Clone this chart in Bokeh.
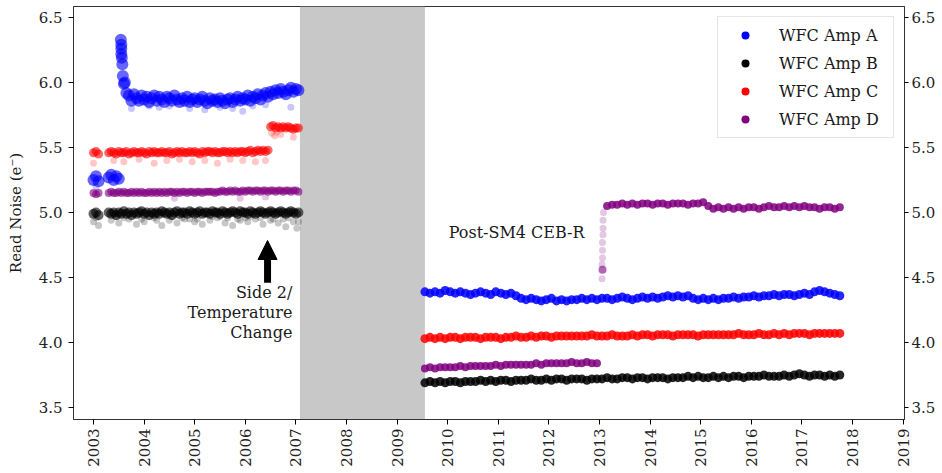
import math
import numpy as np
from bokeh.plotting import figure
from bokeh.models import (ColumnDataSource, LinearAxis, Range1d, FixedTicker,
                          NumeralTickFormatter, BoxAnnotation, Arrow, NormalHead,
                          Legend, LegendItem)
from bokeh.core.properties import value
from bokeh.embed import file_html
from bokeh.resources import INLINE

nan = float("nan")

# ---------------- data ----------------
series_names = ["WFC Amp A", "WFC Amp B", "WFC Amp C", "WFC Amp D"]
series_colors = ["#0000ff", "#000000", "#ff0000", "#800080"]

# sampling of the two observing periods (decimal year)
pre_start, pre_step, pre_n = 2003.00, 0.05, 82      # 2003.00 .. 2007.05
post_start, post_step, post_n = 2009.55, 0.10, 83   # 2009.55 .. 2017.75

# ACS failure (no data)
gap_start, gap_end = 2007.08, 2009.55

amp_a_pre = [5.25, 5.28, 5.24, nan, nan, nan,
             5.27, 5.29, 5.25, 5.28, 5.26, 6.22, 5.99, 5.92,
             5.90, 5.86, 5.91, 5.88, 5.86, 5.90, 5.87, 5.89, 5.85, 5.88,
             5.90, 5.86, 5.89, 5.87, 5.85, 5.89, 5.88, 5.86, 5.90, 5.87,
             5.85, 5.88, 5.86, 5.89, 5.85, 5.87, 5.88, 5.85, 5.87, 5.89,
             5.86, 5.84, 5.88, 5.86, 5.87, 5.85, 5.88, 5.86, 5.84, 5.87,
             5.88, 5.85, 5.87, 5.89, 5.86, 5.88, 5.87, 5.90, 5.86, 5.89,
             5.88, 5.91, 5.87, 5.90, 5.92, 5.89, 5.93, 5.91, 5.94, 5.92,
             5.95, 5.93, 5.91, 5.94, 5.96, 5.93, 5.95, 5.94]
amp_a_spike_dates = [2003.54, 2003.55, 2003.55, 2003.56, 2003.57, 2003.58, 2003.62]
amp_a_spike = [6.33, 6.29, 6.26, 6.19, 6.14, 6.05, 6.00]
amp_a_post = [4.39, 4.38, 4.39, 4.38, 4.40, 4.39, 4.38, 4.39, 4.38, 4.37,
              4.38, 4.39, 4.38, 4.37, 4.39, 4.38, 4.37, 4.38, 4.36, 4.34,
              4.33, 4.34, 4.33, 4.32, 4.33, 4.34, 4.32, 4.33, 4.32, 4.33,
              4.33, 4.34, 4.33, 4.34, 4.33, 4.34, 4.34, 4.33, 4.34, 4.35,
              4.34, 4.33, 4.34, 4.35, 4.34, 4.35, 4.34, 4.35, 4.36, 4.35,
              4.36, 4.35, 4.36, 4.34, 4.33, 4.34, 4.33, 4.34, 4.33, 4.34,
              4.34, 4.35, 4.34, 4.35, 4.35, 4.36, 4.35, 4.36, 4.36, 4.37,
              4.36, 4.37, 4.37, 4.36, 4.37, 4.38, 4.37, 4.39, 4.40, 4.39,
              4.38, 4.37, 4.36]
amp_a_faint_dates = [2003.75, 2004.1, 2004.5, 2004.9, 2005.2, 2005.5, 2005.95, 2006.4,
                     2006.9, 2003.05, 2004.3, 2005.75, 2006.15]
amp_a_faint = [5.80, 5.82, 5.82, 5.80, 5.79, 5.81, 5.78, 5.83, 5.81, 5.20, 5.81, 5.80, 5.82]

amp_b_pre = [4.99, 5.00, 4.98, nan, nan, nan,
             5.00, 4.99, 5.00, 4.98, 5.00, 4.99, 5.01, 4.99, 5.00, 4.98,
             5.00, 4.99, 5.00, 5.01, 4.99, 5.00, 4.98, 5.00, 4.99, 5.00,
             4.99, 5.01, 5.00, 4.99, 5.00, 4.98, 5.00, 5.01, 4.99, 5.00,
             5.00, 4.99, 5.01, 5.00, 4.99, 5.00, 5.01, 4.99, 5.00, 5.00,
             4.99, 5.01, 5.00, 5.00, 4.99, 5.01, 5.00, 4.99, 5.00, 5.01,
             5.00, 4.99, 5.01, 5.00, 5.00, 4.99, 5.01, 5.00, 4.99, 5.00,
             5.01, 5.00, 4.99, 5.00, 5.01, 5.00, 4.99, 5.00, 5.01, 5.00,
             4.99, 5.00, 5.01, 5.00, 4.99, 5.00]
amp_b_post = [3.69, 3.70, 3.69, 3.70, 3.69, 3.70, 3.70, 3.69, 3.70, 3.70,
              3.70, 3.71, 3.70, 3.71, 3.70, 3.71, 3.71, 3.70, 3.71, 3.71,
              3.71, 3.72, 3.71, 3.71, 3.72, 3.71, 3.72, 3.72, 3.71, 3.72,
              3.72, 3.72, 3.71, 3.72, 3.72, 3.72, 3.73, 3.72, 3.72, 3.73,
              3.73, 3.72, 3.73, 3.73, 3.72, 3.73, 3.73, 3.73, 3.72, 3.73,
              3.73, 3.73, 3.74, 3.73, 3.74, 3.73, 3.73, 3.74, 3.73, 3.74,
              3.73, 3.74, 3.74, 3.73, 3.74, 3.74, 3.74, 3.75, 3.74, 3.74,
              3.74, 3.75, 3.74, 3.75, 3.76, 3.75, 3.74, 3.75, 3.75, 3.74,
              3.75, 3.74, 3.75]
amp_b_faint_dates = [2003.0, 2003.1, 2003.35, 2003.5, 2003.7, 2003.85, 2004.0, 2004.2,
                     2004.35, 2004.5, 2004.65, 2004.8, 2005.0, 2005.15, 2005.3, 2005.45,
                     2005.6, 2005.75, 2005.9, 2006.05, 2006.2, 2006.35, 2006.5, 2006.65,
                     2006.8, 2006.95, 2007.02, 2003.6, 2004.9, 2005.5, 2006.0, 2006.75,
                     2003.05, 2003.45, 2003.95, 2004.25, 2004.55, 2004.75, 2005.05, 2005.35,
                     2005.65, 2005.85, 2006.1, 2006.3, 2006.55, 2006.85, 2007.05]
amp_b_faint = [4.93, 4.90, 4.94, 4.92, 4.95, 4.91, 4.93, 4.96, 4.90, 4.94, 4.92, 4.95,
               4.93, 4.91, 4.94, 4.96, 4.92, 4.90, 4.94, 4.93, 4.95, 4.91, 4.94, 4.92,
               4.89, 4.93, 4.88, 4.96, 4.95, 4.97, 4.96, 4.95,
               4.96, 4.97, 4.95, 4.94, 4.97, 4.96, 4.95, 4.97, 4.96, 4.95, 4.97, 4.96,
               4.95, 4.96, 4.93]

amp_c_pre = [5.46, 5.47, 5.45, nan, nan, nan,
             5.46, 5.47, 5.46, 5.45, 5.47, 5.46, 5.46, 5.47, 5.45, 5.46,
             5.47, 5.46, 5.46, 5.47, 5.46, 5.45, 5.47, 5.46, 5.47, 5.46,
             5.46, 5.47, 5.46, 5.46, 5.47, 5.45, 5.46, 5.47, 5.46, 5.47,
             5.46, 5.46, 5.47, 5.46, 5.47, 5.46, 5.45, 5.47, 5.46, 5.47,
             5.47, 5.46, 5.47, 5.46, 5.46, 5.47, 5.47, 5.46, 5.47, 5.46,
             5.47, 5.46, 5.47, 5.47, 5.46, 5.47, 5.48, 5.46, 5.47, 5.48,
             5.47, 5.48, 5.47, 5.48,
             5.66, 5.67, 5.65, 5.66, 5.65, 5.66, 5.65, 5.66, 5.65, 5.64, 5.65, 5.65]
amp_c_post = [4.03, 4.04, 4.03, 4.04, 4.03, 4.04, 4.04, 4.03, 4.04, 4.04,
              4.04, 4.03, 4.04, 4.04, 4.04, 4.03, 4.04, 4.04, 4.05, 4.04,
              4.04, 4.05, 4.04, 4.05, 4.05, 4.04, 4.05, 4.05, 4.05, 4.05,
              4.05, 4.05, 4.05, 4.06, 4.05, 4.05, 4.05, 4.06, 4.05, 4.05,
              4.05, 4.06, 4.05, 4.06, 4.06, 4.05, 4.06, 4.06, 4.06, 4.05,
              4.06, 4.06, 4.06, 4.06, 4.05, 4.06, 4.06, 4.06, 4.06, 4.06,
              4.06, 4.06, 4.07, 4.06, 4.06, 4.06, 4.07, 4.06, 4.06, 4.07,
              4.06, 4.07, 4.06, 4.07, 4.07, 4.07, 4.06, 4.07, 4.07, 4.07,
              4.07, 4.07, 4.07]
amp_c_faint_dates = [2003.0, 2003.4, 2003.6, 2003.9, 2004.2, 2004.45, 2004.7, 2004.95,
                     2005.2, 2005.45, 2005.7, 2005.95, 2006.2, 2006.4, 2006.52, 2006.58,
                     2006.62, 2006.7, 2006.95]
amp_c_faint = [5.38, 5.40, 5.39, 5.41, 5.38, 5.40, 5.41, 5.39, 5.40, 5.38, 5.41, 5.40,
               5.39, 5.40, 5.61, 5.59, 5.62, 5.60, 5.58]

amp_d_pre = [5.15, 5.14, 5.15, nan, nan, nan,
             5.15, 5.16, 5.15, 5.15, 5.16, 5.15, 5.16, 5.15, 5.15, 5.16,
             5.15, 5.16, 5.15, 5.16, 5.15, 5.15, 5.16, 5.15, 5.16, 5.15,
             5.16, 5.15, 5.16, 5.15, 5.16, 5.16, 5.15, 5.16, 5.15, 5.16,
             5.16, 5.15, 5.16, 5.16, 5.15, 5.16, 5.16, 5.15, 5.16, 5.16,
             5.16, 5.16, 5.15, 5.16, 5.16, 5.17, 5.16, 5.16, 5.17, 5.16,
             5.17, 5.16, 5.16, 5.17, 5.16, 5.17, 5.17, 5.16, 5.17, 5.17,
             5.16, 5.17, 5.17, 5.16, 5.17, 5.17, 5.16, 5.17, 5.17, 5.16,
             5.17, 5.17, 5.16, 5.17, 5.17, 5.16]
amp_d_post = [3.80, 3.81, 3.80, 3.81, 3.81, 3.81, 3.81, 3.82, 3.81, 3.82,
              3.82, 3.82, 3.82, 3.82, 3.83, 3.82, 3.83, 3.83, 3.83, 3.83,
              3.83, 3.83, 3.84, 3.83, 3.84, 3.84, 3.84, 3.84, 3.84, 3.85,
              3.84, 3.84, 3.85, 3.84, 3.84, nan,
              5.05, 5.06, 5.06, 5.07, 5.06, 5.07, 5.06, 5.07, 5.07, 5.06,
              5.07, 5.07, 5.06, 5.07, 5.07, 5.07, 5.06, 5.07, 5.07, 5.08,
              5.05, 5.03, 5.04, 5.03, 5.04, 5.03, 5.04, 5.03, 5.04, 5.04,
              5.03, 5.04, 5.05, 5.04, 5.04, 5.05, 5.04, 5.05, 5.04, 5.05,
              5.04, 5.04, 5.03, 5.04, 5.04, 5.03, 5.04]
amp_d_jump_dates = [2013.06]
amp_d_jump = [4.56]
amp_d_faint_dates = [2013.05, 2013.05, 2013.06, 2013.06, 2013.06, 2013.07, 2013.07,
                     2013.07, 2013.08, 2004.6, 2005.9, 2006.4]
amp_d_faint = [4.49, 4.60, 4.65, 4.71, 4.77, 4.83, 4.88, 4.94, 5.00, 5.11, 5.11, 5.12]

x_tick_years = list(range(2003, 2020))
y_ticks = [3.5, 4.0, 4.5, 5.0, 5.5, 6.0, 6.5]

annot_side_lines = ["Side 2/", "Temperature", "Change"]
annot_side_x = [2006.93, 2006.93, 2006.93]
annot_side_y = [4.385, 4.231, 4.077]
arrow_x, arrow_y0, arrow_y1 = 2006.44, 4.46, 4.785
annot_post_text = ["Post-SM4 CEB-R"]
annot_post_x = [2010.02]
annot_post_y = [4.846]

# ---------------- figure ----------------
FONT = "DejaVu Serif"
pre_dates = np.round(pre_start + pre_step * np.arange(pre_n), 3)
post_dates = np.round(post_start + post_step * np.arange(post_n), 3)

p = figure(width=940, height=472, output_backend="svg", toolbar_location=None,
           x_range=Range1d(2002.605, 2019.028), y_range=Range1d(3.408, 6.585),
           min_border_left=73, min_border_right=36, min_border_top=6,
           min_border_bottom=53, background_fill_color="white",
           border_fill_color="white")
p.xgrid.visible = False
p.ygrid.visible = False
p.outline_line_color = "#333333"
p.outline_line_width = 1

p.add_layout(BoxAnnotation(left=gap_start, right=gap_end, fill_color="#c8c8c8",
                           fill_alpha=1.0, line_color=None, level="underlay"))

main = [
    (amp_a_pre, amp_a_post, amp_a_spike_dates, amp_a_spike, amp_a_faint_dates, amp_a_faint, 12, 9),
    (amp_b_pre, amp_b_post, [], [], amp_b_faint_dates, amp_b_faint, 10, 9),
    (amp_c_pre, amp_c_post, [], [], amp_c_faint_dates, amp_c_faint, 9, 9),
    (amp_d_pre, amp_d_post, amp_d_jump_dates, amp_d_jump, amp_d_faint_dates, amp_d_faint, 8, 8),
]
legend_items = []
for (pre, post, ex_d, ex_v, f_d, f_v, sz, sz2), name, col in zip(main, series_names, series_colors):
    fsrc = ColumnDataSource(dict(x=list(f_d), y=list(f_v)))
    p.scatter("x", "y", source=fsrc, size=7, fill_color=col, fill_alpha=0.22,
              line_color=None)
    src_pre = ColumnDataSource(dict(x=list(pre_dates) + list(ex_d),
                                    y=list(pre) + list(ex_v)))
    p.scatter("x", "y", source=src_pre, size=sz, fill_color=col, fill_alpha=0.6,
              line_color=None)
    src_post = ColumnDataSource(dict(x=list(post_dates), y=list(post)))
    p.scatter("x", "y", source=src_post, size=sz2, fill_color=col, fill_alpha=0.85,
              line_color=None)
    dummy = p.scatter(x=[nan], y=[nan], size=8, fill_color=col, line_color=None)
    legend_items.append(LegendItem(label=name, renderers=[dummy]))

# annotations
p.add_layout(Arrow(end=NormalHead(size=19, fill_color="black", line_color="black"),
                   x_start=arrow_x, y_start=arrow_y0, x_end=arrow_x, y_end=arrow_y1,
                   line_width=7, line_color="black"))
side_src = ColumnDataSource(dict(x=annot_side_x, y=annot_side_y, t=annot_side_lines))
p.text("x", "y", text="t", source=side_src, text_align="right", text_baseline="middle",
       text_font=value(FONT), text_font_size="16px", text_color="#1a1a1a")
post_src = ColumnDataSource(dict(x=annot_post_x, y=annot_post_y, t=annot_post_text))
p.text("x", "y", text="t", source=post_src, text_align="left", text_baseline="middle",
       text_font=value(FONT), text_font_size="16px", text_color="#1a1a1a")

# axes
xa = p.xaxis[0]
xa.ticker = FixedTicker(ticks=x_tick_years)
xa.major_label_orientation = math.pi / 2
xa.major_label_text_font = FONT
xa.major_label_text_font_size = "15px"
xa.major_label_text_color = "#222222"
xa.major_label_standoff = 4
xa.major_tick_out = 5
xa.major_tick_in = 0
xa.minor_tick_line_color = None
xa.axis_line_color = "#333333"

ya = p.yaxis[0]
ya.ticker = FixedTicker(ticks=y_ticks)
ya.formatter = NumeralTickFormatter(format="0.0")
ya.axis_label = "Read Noise (e\u207b)"
ya.axis_label_text_font = FONT
ya.axis_label_text_font_style = "normal"
ya.axis_label_text_font_size = "15px"
ya.axis_label_text_color = "#1a1a1a"
ya.axis_label_standoff = 11
ya.major_label_text_font = FONT
ya.major_label_text_font_size = "15px"
ya.major_label_text_color = "#222222"
ya.major_label_standoff = 6
ya.major_tick_out = 5
ya.major_tick_in = 0
ya.minor_tick_line_color = None
ya.axis_line_color = "#333333"

ra = LinearAxis(ticker=FixedTicker(ticks=y_ticks),
                formatter=NumeralTickFormatter(format="0.0"),
                major_label_text_font=FONT, major_label_text_font_size="15px",
                major_label_text_color="#222222", major_label_standoff=3,
                major_tick_out=4, major_tick_in=0, minor_tick_line_color=None,
                axis_line_color="#333333")
p.add_layout(ra, "right")

legend = Legend(items=legend_items, location="top_right", margin=10, padding=8,
                spacing=8, glyph_width=38, glyph_height=20, label_height=20,
                label_width=106, label_standoff=15,
                label_text_font=FONT, label_text_font_size="16px",
                label_text_color="#1a1a1a", label_text_baseline="middle",
                border_line_color="#cccccc", border_line_width=1,
                background_fill_color="white", background_fill_alpha=0.85)
p.add_layout(legend)

open("out.html", "w").write(file_html(p, INLINE))
